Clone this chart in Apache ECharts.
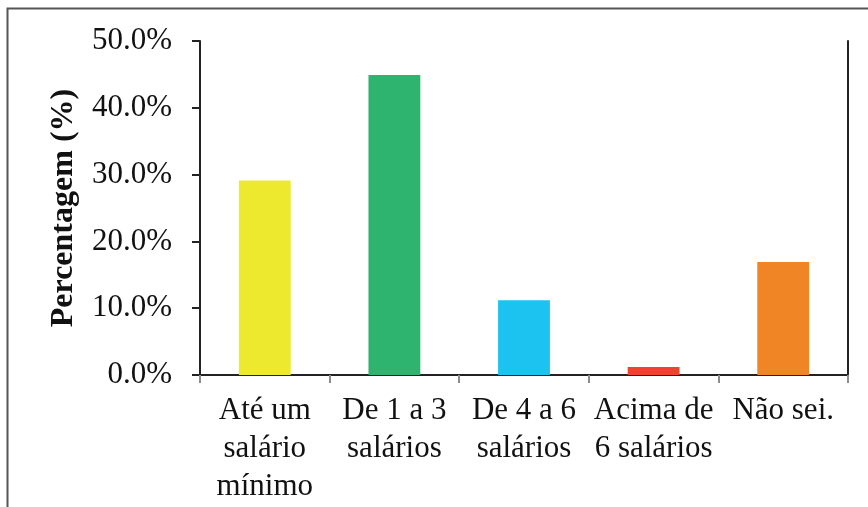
<!DOCTYPE html>
<html>
<head>
<meta charset="utf-8">
<script src="https://cdn.jsdelivr.net/npm/echarts@6/dist/echarts.min.js"></script>
<style>
  html, body { margin: 0; padding: 0; background: #fff; }
  #chart { width: 868px; height: 507px; }
</style>
</head>
<body>
<div id="chart"></div>
<script>
const categories = ["Até um\nsalário\nmínimo", "De 1 a 3\nsalários", "De 4 a 6\nsalários", "Acima de\n6 salários", "Não sei."];
const values = [29.1, 44.9, 11.2, 1.2, 16.9];
const barColors = ["#ede92f", "#2eb46f", "#1cc2f0", "#ef432f", "#ef8524"];
const yTitle = "Percentagem (%)";

const font = "'Liberation Serif', 'Times New Roman', serif";

const chart = echarts.init(document.getElementById("chart"), null, { renderer: "canvas" });

chart.setOption({
  animation: false,
  backgroundColor: "#fff",
  grid: { left: 200, right: 20, top: 41, bottom: 132 },
  graphic: [{
    type: "rect",
    shape: { x: 7.5, y: 8.5, width: 880, height: 520 },
    style: { fill: "none", stroke: "#555", lineWidth: 2 },
    silent: true
  }],
  xAxis: [{
    type: "category",
    data: categories,
    axisLine: { lineStyle: { color: "#8c8c8c", width: 2 } },
    axisTick: { show: true, length: 8, lineStyle: { color: "#8c8c8c", width: 2 } },
    axisLabel: {
      fontFamily: font, fontSize: 31, color: "#111",
      lineHeight: 38, margin: 17, interval: 0
    }
  }, {
    type: "category",
    position: "top",
    data: categories,
    axisLine: { lineStyle: { color: "#222", width: 2 } },
    axisTick: { show: false },
    axisLabel: { show: false }
  }],
  yAxis: [{
    type: "value",
    min: 0, max: 50, interval: 10,
    name: yTitle,
    nameLocation: "middle",
    nameGap: 120,
    nameTextStyle: { fontFamily: font, fontSize: 32, fontWeight: "bold", color: "#111" },
    axisLine: { show: true, lineStyle: { color: "#222", width: 2 } },
    axisTick: { show: true, length: 8, lineStyle: { color: "#222", width: 2 } },
    axisLabel: {
      fontFamily: font, fontSize: 31, color: "#111", margin: 28,
      formatter: v => v.toFixed(1) + "%"
    },
    splitLine: { show: false }
  }, {
    type: "value",
    position: "right",
    min: 0, max: 50, interval: 10,
    axisLine: { show: true, lineStyle: { color: "#222", width: 2 } },
    axisTick: { show: false },
    axisLabel: { show: false },
    splitLine: { show: false }
  }],
  series: [{
    type: "bar",
    data: values.map((v, i) => ({ value: v, itemStyle: { color: barColors[i] } })),
    barWidth: "40%"
  }]
});
</script>
</body>
</html>
